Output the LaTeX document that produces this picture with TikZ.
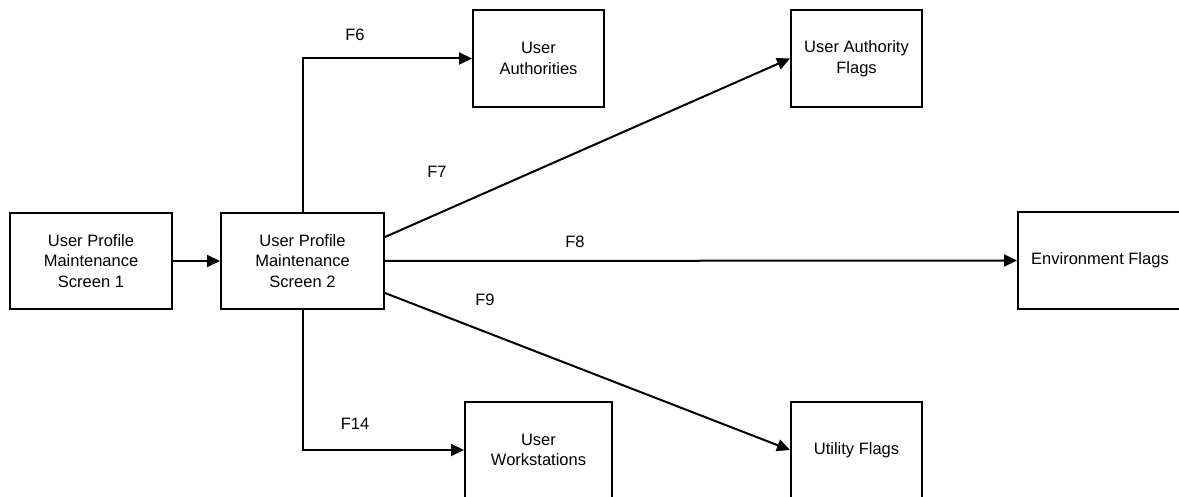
\documentclass[tikz,border=0pt]{standalone}
\usepackage{fontspec}
\setmainfont{Liberation Sans}
\usetikzlibrary{arrows.meta}
\begin{document}
\begin{tikzpicture}[x=1pt,y=-1pt,
  box/.style={draw=black,line width=2pt,rectangle,align=center,inner sep=0pt,
    font=\fontsize{16.5}{20.5}\selectfont},
  conn/.style={line width=2pt,-{Triangle[length=13pt,width=12pt]}},
  lbl/.style={font=\fontsize{16.5}{20.5}\selectfont,inner sep=0pt}]
\useasboundingbox (0,0) rectangle (1179,497);
\clip (0,0) rectangle (1179,497);
\node[box,minimum width=162pt,minimum height=96pt] (s1) at (91,261) {User Profile\\Maintenance\\Screen 1};
\node[box,minimum width=163pt,minimum height=96pt] (s2) at (302.5,261) {User Profile\\Maintenance\\Screen 2};
\node[box,minimum width=131pt,minimum height=97pt] (ua) at (538.5,58.5) {User\\Authorities};
\node[box,minimum width=131pt,minimum height=97pt] (uaf) at (856.5,58.5) {User Authority\\Flags};
\node[box,minimum width=164pt,minimum height=97pt] (env) at (1100,260.5) {Environment Flags};
\node[box,minimum width=147pt,minimum height=96pt] (uw) at (538.5,450) {User\\Workstations};
\node[box,minimum width=131pt,minimum height=96pt] (uf) at (856.5,450) {Utility Flags};
\draw[conn] (s1.east) -- (s2.west);
\draw[conn] (s2.north) |- (ua.west);
\draw[conn] ([yshift=24pt]s2.east) -- (uaf.west);
\draw[conn] (s2.east) -- (env.west);
\draw[conn] ([yshift=-32pt]s2.east) -- (uf.west);
\draw[conn] (s2.south) |- (uw.west);
\node[lbl] (f6) at (355,35) {F6};
\node[lbl] (f7) at (437,172) {F7};
\node[lbl] (f8) at (575,242) {F8};
\node[lbl] (f9) at (485,300) {F9};
\node[lbl] (f14) at (355,424) {F14};
\end{tikzpicture}
\end{document}
